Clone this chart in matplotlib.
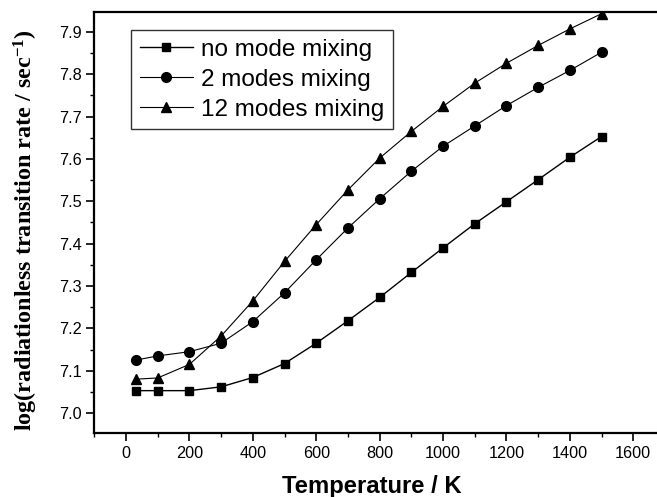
import matplotlib
matplotlib.use("Agg")
import matplotlib.pyplot as plt
from matplotlib.ticker import MultipleLocator

temps = [30, 100, 200, 300, 400, 500, 600, 700, 800, 900, 1000, 1100, 1200, 1300, 1400, 1500]
no_mix = [7.053, 7.053, 7.053, 7.062, 7.084, 7.117, 7.165, 7.218, 7.273, 7.332, 7.390, 7.447, 7.499, 7.551, 7.604, 7.653]
two_mix = [7.125, 7.135, 7.145, 7.165, 7.216, 7.284, 7.362, 7.437, 7.506, 7.571, 7.630, 7.678, 7.726, 7.769, 7.809, 7.852]
twelve_mix = [7.080, 7.083, 7.115, 7.182, 7.265, 7.358, 7.445, 7.527, 7.602, 7.665, 7.724, 7.779, 7.826, 7.868, 7.907, 7.943]
labels = ["no mode mixing", "2 modes mixing", "12 modes mixing"]
xticks = [0, 200, 400, 600, 800, 1000, 1200, 1400, 1600]
yticks = [7.0, 7.1, 7.2, 7.3, 7.4, 7.5, 7.6, 7.7, 7.8, 7.9]

plt.rcParams['font.family'] = ['Liberation Sans', 'DejaVu Sans']
plt.rcParams['mathtext.default'] = 'regular'

fig = plt.figure(figsize=(6.57, 4.97), dpi=100)
W, H = 657, 497
l, r, t, b = 94, 657, 12, 433
ax = fig.add_axes([l / W, 1 - b / H, (r - l) / W, (b - t) / H])

ax.plot(temps, no_mix, '-', color='black', lw=1.0, marker='s', ms=6.3, label=labels[0])
ax.plot(temps, two_mix, '-', color='black', lw=0.8, marker='o', ms=7, label=labels[1])
ax.plot(temps, twelve_mix, '-', color='black', lw=0.8, marker='^', ms=7.5, label=labels[2])

ax.set_xlim(-101, 1675)
ax.set_ylim(6.953, 7.947)
ax.set_xticks(xticks)
ax.set_yticks(yticks)
ax.set_yticklabels([f"{v:.1f}" for v in yticks])
ax.xaxis.set_minor_locator(MultipleLocator(100))
ax.yaxis.set_minor_locator(MultipleLocator(0.05))
ax.tick_params(which='major', direction='out', length=6, width=1.2, labelsize=11.7)
ax.tick_params(which='minor', direction='out', length=3, width=1.0)
ax.tick_params(axis='y', which='major', pad=2.5)
ax.spines['right'].set_visible(False)
for s in ['left', 'bottom', 'top']:
    ax.spines[s].set_linewidth(1.6)

fig.text(371.5 / W, 1 - 487 / H, "Temperature / K", fontsize=17.2, fontweight='bold',
         ha='center', va='center')
fig.text(26 / W, 1 - 230 / H, r"log(radiationless transition rate / sec$^{-1}$)",
         fontsize=17.4, fontweight='bold', family='Liberation Serif',
         rotation=90, ha='center', va='center')

leg = ax.legend(loc='upper left', bbox_to_anchor=((131 - l) / (r - l), 1 - (30 - t) / (b - t)),
                fontsize=17.5, frameon=True, fancybox=False, edgecolor='black', borderpad=0.35,
                handlelength=2.2, handletextpad=0.35, labelspacing=0.33, borderaxespad=0)
leg.get_frame().set_linewidth(1.0)

fig.savefig("out.png", dpi=100)
